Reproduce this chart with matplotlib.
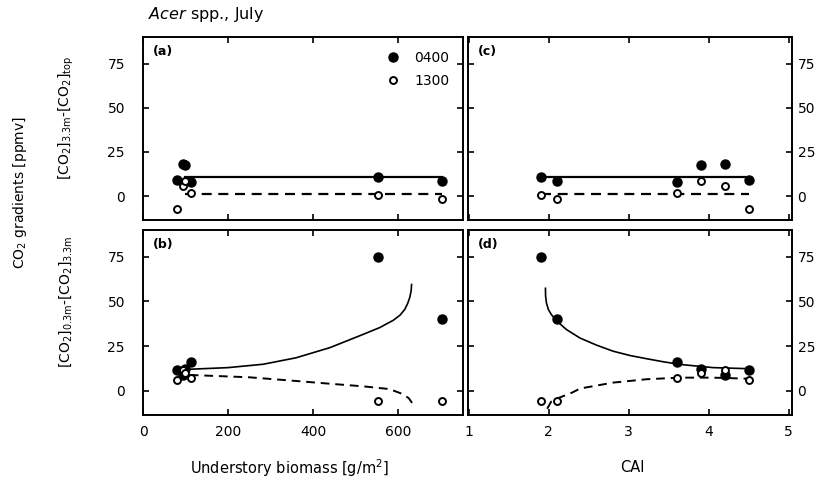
import matplotlib
matplotlib.use("Agg")
import matplotlib.pyplot as plt
from matplotlib.lines import Line2D

# six Acer sites: understory biomass (g/m2) and canopy index
biomass = [79, 95, 99, 112, 554, 703]
cai = [4.5, 4.2, 3.9, 3.6, 1.9, 2.1]

# [CO2]3.3m - [CO2]top
top_0400 = [8.9, 18.4, 17.4, 8.0, 11.0, 8.7]
top_1300 = [-7.0, 5.5, 8.3, 1.5, 0.8, -1.5]

# [CO2]0.3m - [CO2]3.3m
bot_0400 = [11.8, 8.8, 12.2, 16.0, 75.0, 40.0]
bot_1300 = [6.1, 11.8, 10.0, 7.3, -5.9, -5.9]

# fitted lines, panels (a) and (c)
fit_a_x = [100, 703]
fit_c_x = [1.9, 4.5]
fit_top_0400 = [11.0, 11.0]
fit_top_1300 = [1.4, 1.4]

# fitted curves, panel (b)
fit_b_0400_x = [110, 200, 283, 360, 440, 518, 557, 589, 605, 616, 623, 628,
                631, 632]
fit_b_0400_y = [12.1, 13.0, 14.9, 18.5, 24.2, 31.6, 35.4, 39.5, 42.4, 45.6,
                49.0, 52.5, 56.0, 59.5]
fit_b_1300_x = [110, 250, 362, 450, 520, 580, 608, 625, 634]
fit_b_1300_y = [8.9, 7.6, 5.5, 3.8, 2.5, 1.0, -1.5, -4.0, -7.0]

# fitted curves, panel (d)
fit_d_0400_x = [1.958, 1.960, 1.971, 1.995, 2.033, 2.104, 2.221, 2.388,
                2.596, 2.804, 3.013, 3.221, 3.429, 3.638, 4.054, 4.504]
fit_d_0400_y = [57.4, 53.0, 49.1, 45.5, 42.6, 38.9, 34.3, 29.6,
                25.6, 22.2, 19.8, 18.0, 16.3, 14.8, 13.0, 12.4]
fit_d_1300_x = [1.98, 2.03, 2.12, 2.29, 2.39, 2.80, 3.22, 3.64, 4.05, 4.50]
fit_d_1300_y = [-10.0, -6.0, -4.0, -1.0, 1.3, 4.6, 6.5, 7.4, 7.4, 6.8]

plt.rcParams['font.family'] = ['DejaVu Sans']
plt.rcParams['mathtext.fontset'] = 'dejavusans'

fig = plt.figure(figsize=(8.22, 4.83), dpi=100)
W, H = 822.0, 483.0


def box(x0, y0, x1, y1):
    return [x0 / W, 1 - y1 / H, (x1 - x0) / W, (y1 - y0) / H]


ax_a = fig.add_axes(box(143, 37, 463, 220))
ax_c = fig.add_axes(box(468, 37, 792, 220))
ax_b = fig.add_axes(box(143, 230, 463, 415))
ax_d = fig.add_axes(box(468, 230, 792, 415))

filled = dict(marker='o', ls='none', color='black', ms=6.5, zorder=4)
hollow = dict(marker='o', ls='none', mfc='white', mec='black', ms=5,
              mew=1.4, zorder=5)
dash = (0, (4.5, 3))

# (a)
ax_a.plot(fit_a_x, fit_top_0400, color='black', lw=1.6)
ax_a.plot(fit_a_x, fit_top_1300, color='black', lw=1.6, ls=dash)
ax_a.plot(biomass, top_0400, **filled)
ax_a.plot(biomass, top_1300, **hollow)

# (c)
ax_c.plot(fit_c_x, fit_top_0400, color='black', lw=1.6)
ax_c.plot(fit_c_x, fit_top_1300, color='black', lw=1.6, ls=dash)
ax_c.plot(cai, top_0400, **filled)
ax_c.plot(cai, top_1300, **hollow)

# (b)
ax_b.plot(fit_b_0400_x, fit_b_0400_y, color='black', lw=1.2)
ax_b.plot(fit_b_1300_x, fit_b_1300_y, color='black', lw=1.4, ls=dash)
ax_b.plot(biomass, bot_0400, **filled)
ax_b.plot(biomass, bot_1300, **hollow)

# (d)
ax_d.plot(fit_d_0400_x, fit_d_0400_y, color='black', lw=1.2)
ax_d.plot(fit_d_1300_x, fit_d_1300_y, color='black', lw=1.4, ls=dash)
ax_d.plot(cai, bot_0400, **filled)
ax_d.plot(cai, bot_1300, **hollow)

for ax, tag in [(ax_a, '(a)'), (ax_b, '(b)'), (ax_c, '(c)'), (ax_d, '(d)')]:
    ax.set_ylim(-13.5, 90)
    ax.set_yticks([0, 25, 50, 75])
    ax.tick_params(direction='in', length=4, width=1.2, top=True,
                   right=True, labelsize=10)
    for s in ax.spines.values():
        s.set_linewidth(1.4)
    ax.text(0.03, 0.955, tag, transform=ax.transAxes, ha='left', va='top',
            fontsize=9, fontweight='bold')

for ax in (ax_a, ax_b):
    ax.set_xlim(0, 753)
    ax.set_xticks([0, 200, 400, 600])
    ax.tick_params(axis='y', pad=13)
for ax in (ax_c, ax_d):
    ax.set_xlim(0.99, 5.04)
    ax.set_xticks([1, 2, 3, 4, 5])
    ax.tick_params(axis='y', labelleft=False, labelright=True, pad=4)
for ax in (ax_a, ax_c):
    ax.tick_params(axis='x', labelbottom=False)
for ax in (ax_b, ax_d):
    ax.tick_params(axis='x', pad=7)

handles = [Line2D([], [], **filled), Line2D([], [], **hollow)]
ax_a.legend(handles, ['0400', '1300'], loc='upper right', frameon=False,
            fontsize=10, handletextpad=0.9, borderaxespad=0.6,
            labelspacing=0.65, handlelength=1.2)

fig.text(148 / W, 1 - 15 / H, r'$\it{Acer}$ spp., July', fontsize=11.5,
         ha='left', va='center')
fig.text(20 / W, 1 - 193 / H, r'CO$_2$ gradients [ppmv]', rotation=90,
         fontsize=10, ha='center', va='center')
fig.text(66 / W, 1 - 118 / H,
         r'[CO$_2$]$_{\mathrm{3.3m}}$-[CO$_2$]$_{\mathrm{top}}$',
         rotation=90, fontsize=10, ha='center', va='center')
fig.text(66 / W, 1 - 302 / H,
         r'[CO$_2$]$_{\mathrm{0.3m}}$-[CO$_2$]$_{\mathrm{3.3m}}$',
         rotation=90, fontsize=10, ha='center', va='center')
fig.text(290 / W, 1 - 468 / H, r'Understory biomass [g/m$^2$]',
         fontsize=10.5, ha='center', va='center')
fig.text(632 / W, 1 - 468 / H, 'CAI', fontsize=10.5, ha='center',
         va='center')

fig.savefig('out.png', dpi=100)
